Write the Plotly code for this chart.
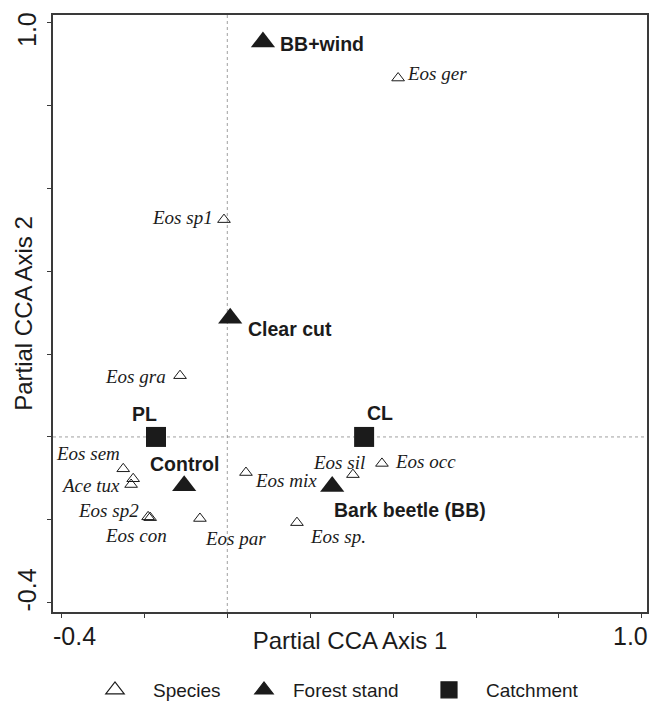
import plotly.graph_objects as go

# ---------------- data ----------------
species_names = ["Eos ger", "Eos sp1", "Eos gra", "Eos sem", "", "Ace tux", "Eos sp2",
                 "Eos con", "Eos par", "Eos mix", "Eos sp.", "Eos sil", "Eos occ"]
species_x = [0.412, -0.008, -0.114, -0.251, -0.227, -0.232, -0.191,
             -0.186, -0.066, 0.045, 0.168, 0.303, 0.373]
species_y = [0.867, 0.525, 0.148, -0.077, -0.101, -0.115, -0.193,
             -0.195, -0.197, -0.086, -0.207, -0.091, -0.064]

stand_names = ["BB+wind", "Clear cut", "Control", "Bark beetle (BB)"]
stand_x = [0.086, 0.007, -0.104, 0.253]
stand_y = [0.954, 0.287, -0.118, -0.120]

catch_names = ["PL", "CL"]
catch_x = [-0.172, 0.330]
catch_y = [0.0, 0.0]

tick_vals = [-0.4, -0.2, 0.0, 0.2, 0.4, 0.6, 0.8, 1.0]
end_tick_labels = ["-0.4", "1.0"]
end_tick_vals = [-0.4, 1.0]

x_title = "Partial CCA Axis 1"
y_title = "Partial CCA Axis 2"
legend_names = ["Species", "Forest stand", "Catchment"]

# ---------------- style ----------------
INK = "#1b1b1b"
FRAME = "#3a3a3a"
SANS = "Liberation Sans, Arial, sans-serif"
SERIF = "Liberation Serif, Times New Roman, serif"

# label placement: (xanchor, xshift, yshift) in px
species_lab = {
    "Eos ger": ("left", 7, 5), "Eos sp1": ("right", -9, 2), "Eos gra": ("right", -12, -1),
    "Eos sem": ("right", -1, 15), "Ace tux": ("right", -9, -1), "Eos sp2": ("right", -7, 6),
    "Eos con": ("center", -14, -18), "Eos par": ("left", 3, -20), "Eos mix": ("left", 7, -8),
    "Eos sp.": ("left", 11, -14), "Eos sil": ("right", 14, 12), "Eos occ": ("left", 11, 2),
}
stand_lab = {
    "BB+wind": ("left", 15, -2), "Clear cut": ("left", 16, -11),
    "Control": ("center", 0, 22), "Bark beetle (BB)": ("left", 0, -23),
}
catch_lab = {"PL": ("center", -11, 23), "CL": ("center", 16, 24)}

fig = go.Figure()

# reference lines through the origin
fig.add_shape(type="line", xref="x", yref="paper", x0=0, x1=0, y0=0, y1=1,
              line=dict(color="#888", width=0.8, dash="dot"), layer="below")
fig.add_shape(type="line", xref="paper", yref="y", x0=0, x1=1, y0=0, y1=0,
              line=dict(color="#888", width=0.8, dash="dot"), layer="below")

fig.add_trace(go.Scatter(
    x=species_x, y=species_y, mode="markers", name=legend_names[0], showlegend=False,
    text=species_names, hoverinfo="text",
    marker=dict(symbol="triangle-up-open", size=11, color=INK, line=dict(width=1, color=INK))))
fig.add_trace(go.Scatter(
    x=stand_x, y=stand_y, mode="markers", name=legend_names[1], showlegend=False,
    text=stand_names, hoverinfo="text",
    marker=dict(symbol="triangle-up", size=21, color=INK)))
fig.add_trace(go.Scatter(
    x=catch_x, y=catch_y, mode="markers", name=legend_names[2], showlegend=False,
    text=catch_names, hoverinfo="text",
    marker=dict(symbol="square", size=20, color=INK)))

# legend entries (no points, only a legend key each)
leg_symbols = ["triangle-up-open", "triangle-up", "square"]
leg_ids = ["legend", "legend2", "legend3"]
for nm, sym, lid in zip(legend_names, leg_symbols, leg_ids):
    fig.add_trace(go.Scatter(
        x=[None], y=[None], mode="markers", name=nm, legend=lid, showlegend=True,
        marker=dict(symbol=sym, size=16, color=INK, line=dict(width=1.2, color=INK))))

annots = []
for n, x, y in zip(species_names, species_x, species_y):
    if n in species_lab:
        xa, xs, ys = species_lab[n]
        annots.append(dict(x=x, y=y, xref="x", yref="y", text=n, showarrow=False,
                           xanchor=xa, yanchor="middle", xshift=xs, yshift=ys,
                           font=dict(family=SERIF, size=19, color=INK, style="italic")))
for n, x, y in zip(stand_names, stand_x, stand_y):
    xa, xs, ys = stand_lab[n]
    annots.append(dict(x=x, y=y, xref="x", yref="y", text=n, showarrow=False,
                       xanchor=xa, yanchor="middle", xshift=xs, yshift=ys,
                       font=dict(family=SANS, size=19.5, color=INK, weight="bold")))
for n, x, y in zip(catch_names, catch_x, catch_y):
    xa, xs, ys = catch_lab[n]
    annots.append(dict(x=x, y=y, xref="x", yref="y", text=n, showarrow=False,
                       xanchor=xa, yanchor="middle", xshift=xs, yshift=ys,
                       font=dict(family=SANS, size=19.5, color=INK, weight="bold")))

# end tick labels (only -0.4 and 1.0 are labelled, set slightly inward)
tick_font = dict(family=SANS, size=25, color=INK)
x_shifts = [13.5, -11]
y_shifts = [12, -7]
for v, t, xs in zip(end_tick_vals, end_tick_labels, x_shifts):
    annots.append(dict(x=v, y=0, xref="x", yref="paper", text=t, showarrow=False,
                       xanchor="center", yanchor="middle", xshift=xs, yshift=-23.5,
                       font=tick_font))
for v, t, ys in zip(end_tick_vals, end_tick_labels, y_shifts):
    annots.append(dict(x=0, y=v, xref="paper", yref="y", text=t, showarrow=False,
                       xanchor="center", yanchor="middle", xshift=-26, yshift=ys,
                       textangle=-90, font=tick_font))

axis_common = dict(
    tickvals=tick_vals, showticklabels=False, ticks="outside", ticklen=4, tickwidth=1.3,
    tickcolor=FRAME, showline=True, linecolor=FRAME, linewidth=1.5, mirror=True,
    showgrid=False, zeroline=False,
)

leg_common = dict(orientation="h", yanchor="middle", xanchor="left", y=-0.1307,
                  bgcolor="rgba(0,0,0,0)", font=dict(family=SANS, size=19, color=INK))

fig.update_layout(
    width=651, height=705,
    margin=dict(l=53, r=4, t=15, b=93, autoexpand=False),
    paper_bgcolor="white", plot_bgcolor="white",
    xaxis=dict(range=[-0.4204, 1.0123], title=dict(text=x_title, standoff=15,
               font=dict(family=SANS, size=24, color=INK)), **axis_common),
    yaxis=dict(range=[-0.4229, 1.0193], title=dict(text=y_title, standoff=8,
               font=dict(family=SANS, size=24, color=INK)), **axis_common),
    annotations=annots,
    showlegend=True,
    legend=dict(x=(77 - 53) / 594, itemwidth=66, **leg_common),
    legend2=dict(x=(235 - 53) / 594, itemwidth=48, **leg_common),
    legend3=dict(x=(412 - 53) / 594, itemwidth=64, **leg_common),
)

fig.write_html("out.html", config={"displayModeBar": False},
               post_script="document.body.style.margin='0px';")
